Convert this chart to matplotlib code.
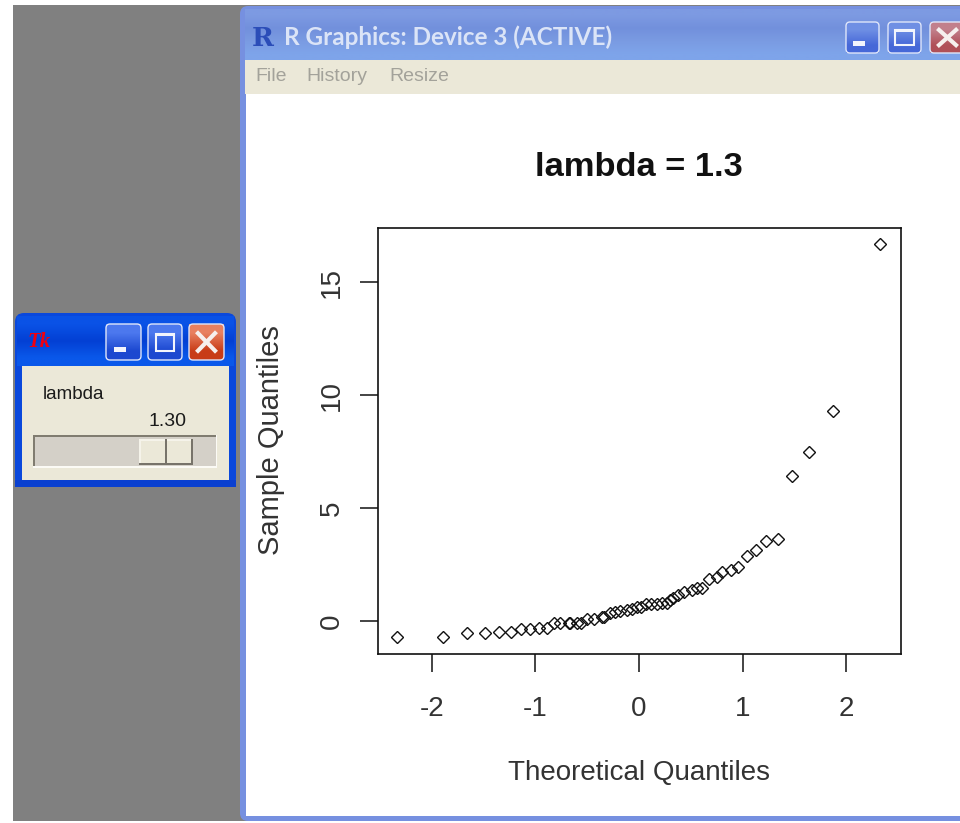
import numpy as np
import matplotlib
matplotlib.use('Agg')
import matplotlib.pyplot as plt
from matplotlib.patches import Rectangle, FancyBboxPatch

plt.rcParams['font.family'] = ['Liberation Sans', 'DejaVu Sans']

# values
theo = [-2.34, -1.89, -1.66, -1.49, -1.35, -1.24, -1.14, -1.05, -0.97, -0.89,
        -0.82, -0.76, -0.68, -0.67, -0.60, -0.56, -0.505, -0.435, -0.36, -0.34,
        -0.28, -0.23, -0.18, -0.12, -0.07, -0.02, 0.02, 0.07, 0.12, 0.17,
        0.22, 0.27, 0.30, 0.33, 0.38, 0.43, 0.51, 0.56, 0.61, 0.68,
        0.75, 0.80, 0.89, 0.96, 1.04, 1.13, 1.23, 1.34, 1.48, 1.64, 1.87, 2.33]
sample = [-0.69, -0.69, -0.55, -0.55, -0.47, -0.47, -0.37, -0.37, -0.30, -0.30,
          -0.08, -0.08, -0.08, -0.08, -0.08, -0.08, 0.10, 0.10, 0.19, 0.19,
          0.34, 0.41, 0.46, 0.49, 0.52, 0.61, 0.61, 0.75, 0.75, 0.75,
          0.78, 0.81, 0.93, 1.00, 1.15, 1.30, 1.37, 1.45, 1.45, 1.86,
          1.96, 2.18, 2.26, 2.40, 2.89, 3.14, 3.54, 3.61, 6.4, 7.5, 9.3, 16.7]
x_ticks = [-2, -1, 0, 1, 2]
y_ticks = [0, 5, 10, 15]

W, H = 960, 823
fig = plt.figure(figsize=(W / 100, H / 100), dpi=100, facecolor='white')

# window chrome drawn in pixel coordinates
bg = fig.add_axes([0, 0, 1, 1])
bg.set_xlim(0, W)
bg.set_ylim(H, 0)
bg.axis('off')


def box(x0, y0, x1, y1, color, **kw):
    bg.add_patch(Rectangle((x0, y0), x1 - x0, y1 - y0, facecolor=color, edgecolor='none', **kw))


def grad(x0, y0, x1, y1, colors, horizontal=False):
    c = np.array([matplotlib.colors.to_rgb(v) for v in colors])
    img = c[None, :, :] if horizontal else c[:, None, :]
    bg.imshow(img, extent=(x0, x1, y1, y0), aspect='auto', interpolation='bilinear', zorder=2)


def button(x0, y0, x1, y1, top, bottom, kind):
    grad(x0 + 1, y0 + 1, x1 - 1, y1 - 1, [top, bottom])
    bg.add_patch(FancyBboxPatch((x0 + 1, y0 + 1), x1 - x0 - 2, y1 - y0 - 2, boxstyle='round,pad=0,rounding_size=4',
                                facecolor='none', edgecolor='#dfe6fa', lw=1.0, zorder=3))
    w, h = x1 - x0, y1 - y0
    if kind == 'min':
        box(x0 + w * 0.24, y0 + h * 0.62, x0 + w * 0.58, y0 + h * 0.76, '#f2f4fc', zorder=4)
    elif kind == 'max':
        bg.add_patch(Rectangle((x0 + w * 0.24, y0 + h * 0.28), w * 0.52, h * 0.46, facecolor='none',
                               edgecolor='#f2f4fc', lw=1.5, zorder=4))
        box(x0 + w * 0.24, y0 + h * 0.26, x0 + w * 0.76, y0 + h * 0.34, '#f2f4fc', zorder=4)
    else:
        bg.plot([x0 + w * 0.27, x0 + w * 0.73], [y0 + h * 0.27, y0 + h * 0.73], color='#f6f0ee', lw=3, zorder=4)
        bg.plot([x0 + w * 0.27, x0 + w * 0.73], [y0 + h * 0.73, y0 + h * 0.27], color='#f6f0ee', lw=3, zorder=4)


box(13, 5, W, 823, '#808080')
box(0, 821, W, 823, 'white', zorder=1)

# R graphics window
bg.add_patch(FancyBboxPatch((240, 6), 730, 815, boxstyle='round,pad=0,rounding_size=8',
                            facecolor='#7690e0', edgecolor='none', zorder=1))
grad(245, 9, W, 60, ['#7d9ae2', '#7290dc', '#7a9be2', '#7ea4ea'])
box(245, 60, W, 94, '#ebe8d8', zorder=2)
box(246, 94, W, 816, 'white', zorder=2)
bg.text(284, 37, 'R Graphics: Device 3 (ACTIVE)', color='#dbe4f7', fontsize=17.5, fontweight='bold',
        family=['Lato', 'DejaVu Sans'], va='center', ha='left', zorder=5)
bg.text(252, 38, 'R', color='#2b4db8', fontsize=19, fontweight='bold', family='DejaVu Serif',
        va='center', ha='left', zorder=5)
for label, lx in zip(['File', 'History', 'Resize'], [255, 306, 389]):
    bg.text(lx, 76, label, color='#a3a29a', fontsize=14, va='center', ha='left', zorder=5)
button(845, 21, 880, 54, '#6f8fe4', '#4668d8', 'min')
button(887, 21, 922, 54, '#6f8fe4', '#4668d8', 'max')
button(929, 21, 966, 54, '#c2808c', '#b05058', 'close')

# Tk slider window
bg.add_patch(FancyBboxPatch((15, 313), 221, 174, boxstyle='round,pad=0,rounding_size=9',
                            facecolor='#0a48dc', edgecolor='none', zorder=1))
grad(17, 316, 234, 366, ['#0a52e6', '#0340d4', '#0a58ea'])
box(22, 366, 229, 480, '#ebe8d8', zorder=3)
box(15, 480, 236, 487, '#0a40d0', zorder=2)
button(105, 323, 142, 361, '#4c78ee', '#1c48d0', 'min')
button(147, 323, 183, 361, '#4c78ee', '#1c48d0', 'max')
button(188, 323, 225, 361, '#e88060', '#c83c18', 'close')
bg.text(27, 342, 'Tk', color='#f00010', fontsize=15, fontweight='bold', style='italic', family='Liberation Serif',
        va='center', ha='left', zorder=5)
bg.text(43, 394, 'lambda', color='#1a1a1a', fontsize=13.5, va='center', ha='left', zorder=5)
bg.text(168, 421, '1.30', color='#1a1a1a', fontsize=14, va='center', ha='center', zorder=5)
box(33, 435, 217, 468, '#fbfaf5', zorder=3)
box(33, 435, 216, 466, '#807c70', zorder=3)
box(35, 437, 216, 466, '#d4d0c8', zorder=4)
box(139, 439, 193, 465, '#77736a', zorder=5)
box(139, 439, 191, 463, '#f5f3ea', zorder=6)
box(141, 441, 191, 463, '#ebe8d8', zorder=7)
box(164.5, 439, 166.5, 465, '#77736a', zorder=8)

# QQ plot
left, right, top, bottom = 378, 901, 228, 654
ax = fig.add_axes([left / W, 1 - bottom / H, (right - left) / W, (bottom - top) / H])
ax.set_facecolor('white')
ax.plot(theo, sample, linestyle='none', marker='D', markersize=5.9, markerfacecolor='none',
        markeredgecolor='#111111', markeredgewidth=1.0)
ax.set_xlim(-2.52, 2.53)
ax.set_ylim(-1.46, 17.39)
ax.set_xticks(x_ticks)
ax.set_yticks(y_ticks)
ax.set_xticklabels(['-2', '-1', '0', '1', '2'])
ax.tick_params(axis='x', length=13, width=1.1, labelsize=20, color='#111111', labelcolor='#333333', pad=17)
ax.tick_params(axis='y', length=13, width=1.1, labelsize=20, color='#111111', labelcolor='#333333', pad=11)
for t in ax.get_yticklabels():
    t.set_rotation(90)
    t.set_va('center')
for s in ax.spines.values():
    s.set_linewidth(1.2)
    s.set_color('#111111')

fig.text(639 / W, 1 - 168 / H, 'lambda = 1.3', fontsize=24.8, fontweight='bold', ha='center', va='center', color='#111111')
fig.text(639 / W, 1 - 773 / H, 'Theoretical Quantiles', fontsize=20, ha='center', va='center', color='#333333')
fig.text(271 / W, 1 - 440 / H, 'Sample Quantiles', fontsize=21, rotation=90, ha='center', va='center', color='#333333')

plt.savefig('out.png', dpi=100)
plt.close()
